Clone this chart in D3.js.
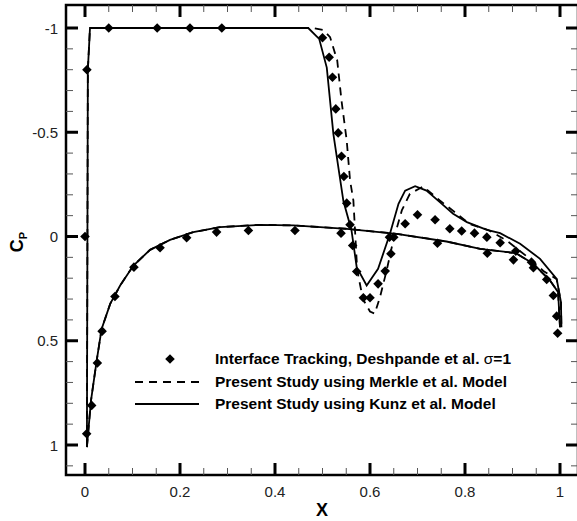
<!DOCTYPE html>
<html>
<head>
<meta charset="utf-8">
<script src="https://cdn.jsdelivr.net/npm/d3@7"></script>
<style>
  html, body { margin: 0; padding: 0; background: #fff; }
  svg { display: block; font-family: "Liberation Sans", Arial, sans-serif; }
</style>
</head>
<body>
<svg id="chart" width="577" height="521"></svg>
<script>
// ---------- data ----------
const xTicks = [0, 0.2, 0.4, 0.6, 0.8, 1];
const xTickLabels = ["0", "0.2", "0.4", "0.6", "0.8", "1"];
const yTicks = [-1, -0.5, 0, 0.5, 1];
const yTickLabels = ["-1", "-0.5", "0", "0.5", "1"];

const legendLabels = [
  "Interface Tracking, Deshpande et al. ",
  "Present Study using Merkle et al. Model",
  "Present Study using Kunz et al. Model"
];

// Kunz model (solid) – upper (suction) side
const kunzUpperX  = [0.004, 0.006, 0.0105, 0.1, 0.2, 0.3, 0.4, 0.47, 0.493, 0.509, 0.523, 0.544, 0.561, 0.572, 0.593, 0.617, 0.642, 0.66, 0.674, 0.695, 0.719, 0.747, 0.775, 0.804, 0.846, 0.874, 0.916, 0.958, 0.993, 1.002, 1.003];
const kunzUpperCp = [1.01, -0.8, -1.0, -1.0, -1.0, -1.0, -1.0, -1.0, -0.948, -0.81, -0.49, -0.17, -0.03, 0.147, 0.235, 0.155, -0.013, -0.157, -0.22, -0.241, -0.22, -0.165, -0.109, -0.069, -0.032, -0.016, 0.035, 0.107, 0.203, 0.315, 0.435];
// Kunz model (solid) – lower (pressure) side
const kunzLowerX  = [0.004, 0.0126, 0.0246, 0.035, 0.053, 0.074, 0.102, 0.137, 0.179, 0.228, 0.284, 0.368, 0.439, 0.551, 0.656, 0.761, 0.832, 0.907, 0.944, 0.979, 0.996, 1.0];
const kunzLowerCp = [1.01, 0.787, 0.595, 0.443, 0.323, 0.235, 0.139, 0.064, 0.016, -0.021, -0.045, -0.056, -0.053, -0.037, -0.013, 0.024, 0.059, 0.08, 0.131, 0.211, 0.267, 0.435];

// Merkle model (dashed) – upper side
const merkleUpperX  = [0.004, 0.006, 0.0105, 0.1, 0.2, 0.3, 0.4, 0.48, 0.502, 0.516, 0.531, 0.540, 0.551, 0.558, 0.565, 0.573, 0.585, 0.6, 0.61, 0.621, 0.635, 0.649, 0.667, 0.684, 0.712, 0.747, 0.81, 0.85, 0.888, 0.93, 0.965, 0.993, 1.002, 1.003];
const merkleUpperCp = [1.01, -0.8, -1.0, -1.0, -1.0, -1.0, -1.0, -1.0, -0.99, -0.956, -0.844, -0.652, -0.46, -0.269, -0.173, 0.16, 0.30, 0.36, 0.37, 0.291, 0.163, 0.019, -0.125, -0.205, -0.24, -0.173, -0.06, -0.03, 0.02, 0.095, 0.165, 0.205, 0.315, 0.435];
// Merkle model (dashed) – lower side
const merkleLowerX  = [0.004, 0.0126, 0.0246, 0.035, 0.053, 0.074, 0.102, 0.137, 0.179, 0.228, 0.284, 0.368, 0.439, 0.551, 0.656, 0.761, 0.832, 0.907, 0.944, 0.979, 0.996, 1.0];
const merkleLowerCp = [1.01, 0.787, 0.595, 0.443, 0.323, 0.235, 0.139, 0.064, 0.016, -0.021, -0.045, -0.056, -0.053, -0.037, -0.013, 0.024, 0.059, 0.08, 0.131, 0.211, 0.267, 0.435];

// Interface tracking (Deshpande et al.) – diamonds
const expUpperX  = [0, 0.004, 0.05, 0.152, 0.221, 0.288, 0.5, 0.514, 0.521, 0.528, 0.533, 0.540, 0.545, 0.551, 0.558, 0.5635, 0.572, 0.586, 0.6, 0.617, 0.632, 0.644, 0.65, 0.674, 0.7, 0.737, 0.768, 0.793, 0.82, 0.846, 0.874, 0.907, 0.944, 0.972, 0.986, 0.993];
const expUpperCp = [0, -0.8, -1.0, -1.0, -1.0, -1.0, -0.953, -0.86, -0.764, -0.612, -0.497, -0.385, -0.288, -0.16, -0.056, 0.043, 0.168, 0.294, 0.294, 0.227, 0.166, 0.083, 0.003, -0.061, -0.104, -0.08, -0.037, -0.026, -0.016, 0.003, 0.03, 0.07, 0.15, 0.206, 0.283, 0.382];
const expLowerX  = [0.0035, 0.014, 0.026, 0.036, 0.063, 0.103, 0.158, 0.214, 0.277, 0.344, 0.442, 0.539, 0.641, 0.742, 0.847, 0.902, 0.940, 0.995];
const expLowerCp = [0.946, 0.81, 0.607, 0.454, 0.288, 0.147, 0.054, 0.006, -0.021, -0.029, -0.029, -0.016, 0.003, 0.032, 0.080, 0.112, 0.123, 0.464];

// ---------- layout ----------
const svg = d3.select("#chart");
const frame = { left: 66, right: 578, top: 5, bottom: 475 };
const x = d3.scaleLinear().domain([0, 1]).range([85, 560]);
const y = d3.scaleLinear().domain([-1, 1]).range([28, 445]);

const zip = (xs, ys) => xs.map((v, i) => [v, ys[i]]);
const line = d3.line().x(d => x(d[0])).y(d => y(d[1]));

// frame
svg.append("rect")
  .attr("x", frame.left).attr("y", frame.top)
  .attr("width", frame.right - frame.left).attr("height", frame.bottom - frame.top)
  .attr("fill", "none").attr("stroke", "#000").attr("stroke-width", 2.5);

// ticks (inward, on all four sides)
const xMinor = d3.range(0, 1.0001, 0.05).filter(v => !xTicks.some(t => Math.abs(t - v) < 1e-6));
const yMinor = d3.range(-1.1, 1.1001, 0.1).filter(v => !yTicks.some(t => Math.abs(t - v) < 1e-6) && y(v) > frame.top + 3 && y(v) < frame.bottom - 3);

const tg = svg.append("g");
xTicks.forEach(v => {
  tg.append("line").attr("x1", x(v)).attr("x2", x(v)).attr("y1", frame.bottom).attr("y2", frame.bottom - 12).attr("stroke", "#000").attr("stroke-width", 3);
  tg.append("line").attr("x1", x(v)).attr("x2", x(v)).attr("y1", frame.top).attr("y2", frame.top + 12).attr("stroke", "#000").attr("stroke-width", 3);
});
xMinor.forEach(v => {
  tg.append("line").attr("x1", x(v)).attr("x2", x(v)).attr("y1", frame.bottom).attr("y2", frame.bottom - 7).attr("stroke", "#555").attr("stroke-width", 1);
  tg.append("line").attr("x1", x(v)).attr("x2", x(v)).attr("y1", frame.top).attr("y2", frame.top + 7).attr("stroke", "#555").attr("stroke-width", 1);
});
yTicks.forEach(v => {
  tg.append("line").attr("x1", frame.left).attr("x2", frame.left + 12).attr("y1", y(v)).attr("y2", y(v)).attr("stroke", "#000").attr("stroke-width", 3);
  tg.append("line").attr("x1", frame.right).attr("x2", frame.right - 12).attr("y1", y(v)).attr("y2", y(v)).attr("stroke", "#000").attr("stroke-width", 3);
});
yMinor.forEach(v => {
  tg.append("line").attr("x1", frame.left).attr("x2", frame.left + 7).attr("y1", y(v)).attr("y2", y(v)).attr("stroke", "#555").attr("stroke-width", 1);
  tg.append("line").attr("x1", frame.right).attr("x2", frame.right - 7).attr("y1", y(v)).attr("y2", y(v)).attr("stroke", "#555").attr("stroke-width", 1);
});

// tick labels
svg.append("g").selectAll("text").data(xTicks).join("text")
  .attr("x", d => x(d)).attr("y", 497)
  .attr("text-anchor", "middle").attr("font-size", 15).attr("fill", "#222")
  .text((d, i) => xTickLabels[i]);
svg.append("g").selectAll("text").data(yTicks).join("text")
  .attr("x", 58).attr("y", d => y(d) + 5.5)
  .attr("text-anchor", "end").attr("font-size", 15).attr("fill", "#222")
  .text((d, i) => yTickLabels[i]);

// axis titles
svg.append("text").attr("x", 322).attr("y", 516).attr("text-anchor", "middle")
  .attr("font-size", 18).attr("font-weight", "bold").text("X");
const yt = svg.append("text").attr("transform", "translate(23,242) rotate(-90)")
  .attr("text-anchor", "middle").attr("font-size", 18).attr("font-weight", "bold");
yt.append("tspan").text("C");
yt.append("tspan").attr("font-size", 11).attr("dy", 4).text("P");

// curves
const curves = svg.append("g").attr("fill", "none").attr("stroke", "#000").attr("stroke-width", 1.8);
curves.append("path").attr("d", line(zip(merkleUpperX, merkleUpperCp))).attr("stroke-dasharray", "8,6");
curves.append("path").attr("d", line(zip(merkleLowerX, merkleLowerCp))).attr("stroke-dasharray", "8,6");
curves.append("path").attr("d", line(zip(kunzUpperX, kunzUpperCp)));
curves.append("path").attr("d", line(zip(kunzLowerX, kunzLowerCp)));

// diamonds
const diamond = d3.symbol().type(d3.symbolSquare).size(46);
const pts = zip(expUpperX, expUpperCp).concat(zip(expLowerX, expLowerCp));
svg.append("g").selectAll("path").data(pts).join("path")
  .attr("d", diamond)
  .attr("transform", d => `translate(${x(d[0])},${y(d[1])}) rotate(45)`)
  .attr("fill", "#000");

// legend
const legendFont = 15.5;
const lg = svg.append("g");
lg.append("path").attr("d", diamond).attr("transform", "translate(170,359) rotate(45)").attr("fill", "#000");
lg.append("line").attr("x1", 135).attr("x2", 199).attr("y1", 382).attr("y2", 382)
  .attr("stroke", "#000").attr("stroke-width", 1.8).attr("stroke-dasharray", "8,6");
lg.append("line").attr("x1", 135).attr("x2", 199).attr("y1", 404).attr("y2", 404)
  .attr("stroke", "#000").attr("stroke-width", 1.8);
const t1 = lg.append("text").attr("x", 215).attr("y", 364).attr("font-size", legendFont).attr("font-weight", "bold");
t1.append("tspan").text(legendLabels[0]);
t1.append("tspan").attr("font-weight", "normal").text("σ");
t1.append("tspan").text("=1");
lg.append("text").attr("x", 215).attr("y", 387).attr("font-size", legendFont).attr("font-weight", "bold").text(legendLabels[1]);
lg.append("text").attr("x", 215).attr("y", 409).attr("font-size", legendFont).attr("font-weight", "bold").text(legendLabels[2]);
</script>
</body>
</html>
